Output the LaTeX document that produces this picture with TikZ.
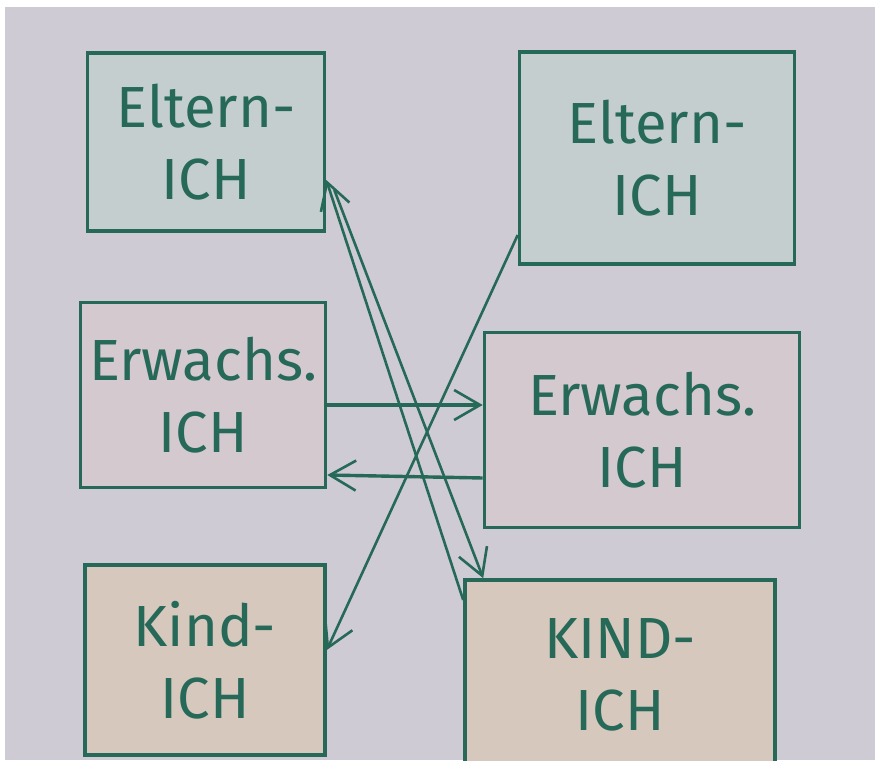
\documentclass[tikz,border=0pt]{standalone}
\usepackage{fontspec}
\setsansfont{Fira Sans}
\definecolor{tainkgreen}{RGB}{38,105,88}
\definecolor{tapaper}{RGB}{206,203,212}
\definecolor{taelt}{RGB}{196,206,206}
\definecolor{taerw}{RGB}{212,201,207}
\definecolor{takind}{RGB}{214,200,188}
\usetikzlibrary{arrows.meta,positioning}

\begin{document}
\begin{tikzpicture}[x=1pt, y=-1pt,
  ego/.style={draw=tainkgreen, line width=3.6pt, align=center, text=tainkgreen, inner sep=0pt,
    font=\sffamily\fontsize{58}{72}\selectfont},
  trans/.style={draw=tainkgreen, line width=2.6pt, -{Straight Barb[length=26pt, width=30pt, line width=2.6pt]}}]
% Paper
\fill[tapaper] (0,0) rectangle (875,760);
\fill[white] (0,0) rectangle (875,7);
\fill[white] (0,0) rectangle (5,760);
\useasboundingbox (0,0) rectangle (875,760);
% Left ego states
\node[ego, fill=taelt, minimum width=237pt, minimum height=178pt] (lelt) at (206,142) {Eltern-\\ICH};
\node[ego, fill=taerw, minimum width=245pt, minimum height=185pt] (lerw) at (203,395) {Erwachs.\\ICH};
\node[ego, fill=takind, minimum width=240pt, minimum height=190pt] (lkind) at (205,660) {Kind-\\ICH};
% Right ego states
\node[ego, fill=taelt, minimum width=275pt, minimum height=212pt] (relt) at (657,158) {Eltern-\\ICH};
\node[ego, fill=taerw, minimum width=315pt, minimum height=195pt] (rerw) at (642,430) {Erwachs.\\ICH};
\node[ego, fill=takind, minimum width=310pt, minimum height=190pt] (rkind) at (620,675) {KIND-\\ICH};
% Transactions
\draw[trans, line width=3.4pt] ([yshift=-10pt]lerw.east) -- ([yshift=25pt]rerw.west);
\draw[trans, line width=3.4pt] ([yshift=-48pt]rerw.west) -- ([yshift=-80pt]lerw.east);
\draw[trans] ([yshift=75pt]rkind.west) -- ([yshift=-38pt]lelt.east);
\draw[trans] ([xshift=8pt, yshift=-48pt]lelt.east) -- ([xshift=20pt]rkind.north west);
\draw[trans] ([yshift=-77pt]relt.west) -- ([yshift=10pt]lkind.east);
\end{tikzpicture}
\end{document}
